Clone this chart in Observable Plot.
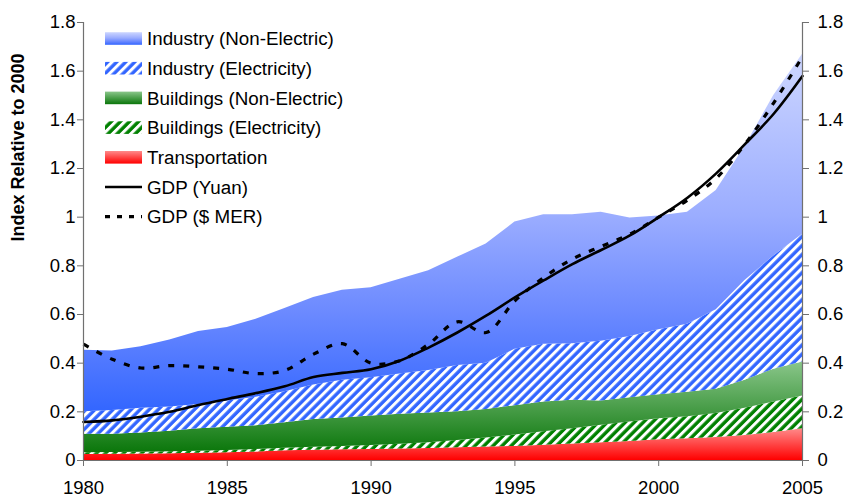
<!DOCTYPE html>
<html><head><meta charset="utf-8">
<script src="https://cdn.jsdelivr.net/npm/d3@7"></script>
<script src="https://cdn.jsdelivr.net/npm/@observablehq/plot@0.6"></script>
<style>
body{margin:0;background:#fff;}
#chart{position:relative;width:846px;height:498px;}
#chart svg{font-family:"Liberation Sans",Arial,sans-serif;overflow:visible;}
</style></head><body><div id="chart"></div>
<script>
const years = [1980,1981,1982,1983,1984,1985,1986,1987,1988,1989,1990,1991,1992,1993,1994,1995,1996,1997,1998,1999,2000,2001,2002,2003,2004,2005];
const transport   = [.025,.026,.027,.028,.030,.032,.035,.040,.042,.044,.045,.047,.049,.052,.055,.058,.063,.068,.073,.078,.085,.089,.095,.103,.115,.130];
const bldgElec    = [.007,.007,.007,.008,.008,.009,.010,.010,.012,.014,.017,.020,.024,.030,.037,.047,.055,.062,.072,.080,.087,.091,.098,.112,.125,.135];
const bldgNonElec = [.076,.075,.079,.084,.092,.096,.098,.105,.114,.117,.121,.123,.122,.118,.118,.120,.122,.118,.100,.100,.098,.100,.100,.115,.135,.140];
const indElec     = [.092,.097,.102,.100,.100,.108,.117,.128,.142,.155,.157,.165,.175,.190,.190,.232,.238,.232,.245,.252,.267,.280,.327,.410,.465,.525];
const indNonElec  = [.253,.245,.252,.275,.300,.302,.320,.342,.360,.370,.370,.390,.410,.445,.490,.523,.532,.530,.530,.487,.468,.460,.490,.550,.660,.740];
const gdpYuan     = [.158,.165,.180,.200,.228,.253,.277,.305,.343,.360,.375,.410,.464,.526,.595,.670,.740,.807,.865,.925,1.00,1.08,1.18,1.30,1.425,1.58];
const gdpMER      = [.478,.416,.380,.390,.385,.375,.357,.370,.437,.480,.400,.410,.478,.570,.526,.656,.752,.828,.880,.930,1.00,1.07,1.16,1.30,1.47,1.66];
const xTicks = [1980,1985,1990,1995,2000,2005];
const yTicks = [0,0.2,0.4,0.6,0.8,1,1.2,1.4,1.6,1.8];
const yLabel = "Index Relative to 2000";

const layers = [
  {key:"Transportation", values:transport, fill:"url(#gRed)"},
  {key:"Buildings (Electricity)", values:bldgElec, fill:"url(#hGreen)"},
  {key:"Buildings (Non-Electric)", values:bldgNonElec, fill:"url(#gGreen)"},
  {key:"Industry (Electricity)", values:indElec, fill:"url(#hBlue)"},
  {key:"Industry (Non-Electric)", values:indNonElec, fill:"url(#gBlue)"}
];
const base = years.map(() => 0);
const stacked = layers.map(l => {
  const rows = years.map((yr, i) => ({year: yr, y1: base[i], y2: base[i] + l.values[i]}));
  rows.forEach((r, i) => base[i] = r.y2);
  return {...l, rows};
});
const lineRows = (arr) => years.map((yr, i) => ({year: yr, v: arr[i]}));
const fmt = d => String(+d.toFixed(1));

const svg = Plot.plot({
  width: 846, height: 498,
  marginLeft: 83, marginRight: 44, marginTop: 22, marginBottom: 38,
  style: {fontSize: "18.5px", fontFamily: "'Liberation Sans', Arial, sans-serif", color: "#000", background: "#fff"},
  x: {domain: [1980, 2005]},
  y: {domain: [0, 1.8]},
  marks: [
    ...stacked.map(l => Plot.areaY(l.rows, {x: "year", y1: "y1", y2: "y2", fill: l.fill})),
    Plot.lineY(lineRows(gdpMER), {x: "year", y: "v", stroke: "#000", strokeWidth: 3.2, strokeDasharray: "6,9", strokeLinecap: "butt", curve: "catmull-rom"}),
    Plot.lineY(lineRows(gdpYuan), {x: "year", y: "v", stroke: "#000", strokeWidth: 2.6, curve: "catmull-rom"}),
    Plot.ruleX([1980, 2005], {stroke: "#707070", strokeWidth: 1.2}),
    Plot.ruleY([0], {stroke: "#707070", strokeWidth: 1.2}),
    Plot.axisX({ticks: xTicks, tickFormat: d => String(d), tickSize: 6, tickPadding: 14, stroke: "#707070", label: null, fontSize: 18.5}),
    Plot.axisY({anchor: "left", ticks: yTicks, tickFormat: fmt, tickSize: 6, tickPadding: 2, stroke: "#707070", label: null, fontSize: 18.5}),
    Plot.axisY({anchor: "right", ticks: yTicks, tickFormat: fmt, tickSize: 6, tickPadding: 9, stroke: "#707070", label: null, fontSize: 18.5}),
    Plot.text([yLabel], {frameAnchor: "left", dx: -65, rotate: -90, fontWeight: "bold", fontSize: 18, text: d => d, fill: "#000"})
  ]
});
document.getElementById("chart").appendChild(svg);

const S = d3.select(svg);
const defs = S.insert("defs", ":first-child");
function grad(id, stops) {
  const g = defs.append("linearGradient").attr("id", id).attr("x1", 0).attr("y1", 0).attr("x2", 0).attr("y2", 1);
  stops.forEach(([o, c]) => g.append("stop").attr("offset", o).attr("stop-color", c));
}
grad("gBlue", [[0, "#cdd6ff"], [0.45, "#9badff"], [0.72, "#6c8aff"], [1, "#3366ff"]]);
grad("gGreen", [[0, "#8ac68a"], [1, "#0a760a"]]);
grad("gRed", [[0, "#ff8a8a"], [1, "#ff0000"]]);
function hatch(id, color) {
  const p = defs.append("pattern").attr("id", id).attr("patternUnits", "userSpaceOnUse")
    .attr("width", 6.4).attr("height", 10).attr("patternTransform", "rotate(45)");
  p.append("rect").attr("width", 6.4).attr("height", 10).attr("fill", color);
  p.append("rect").attr("width", 3).attr("height", 10).attr("fill", "#fff");
}
hatch("hBlue", "#3366ff");
hatch("hGreen", "#008000");

// legend
const legendItems = [
  {label: "Industry (Non-Electric)", fill: "url(#gBlue)"},
  {label: "Industry (Electricity)", fill: "url(#hBlue)"},
  {label: "Buildings (Non-Electric)", fill: "url(#gGreen)"},
  {label: "Buildings (Electricity)", fill: "url(#hGreen)"},
  {label: "Transportation", fill: "url(#gRed)"},
  {label: "GDP (Yuan)", line: "solid"},
  {label: "GDP ($ MER)", line: "dash"}
];
const L = S.append("g").attr("font-size", 18.8).attr("text-anchor", "start");
legendItems.forEach((d, i) => {
  const cy = 38.5 + i * 29.7;
  if (d.fill) {
    L.append("rect").attr("x", 105).attr("y", cy - 6.3).attr("width", 37).attr("height", 12.6).attr("fill", d.fill);
  } else {
    L.append("line").attr("x1", 105).attr("x2", 142).attr("y1", cy).attr("y2", cy)
      .attr("stroke", "#000").attr("stroke-width", d.line === "solid" ? 2.6 : 3.2)
      .attr("stroke-dasharray", d.line === "solid" ? null : "5,7");
  }
  L.append("text").attr("x", 147).attr("y", cy).attr("dy", "0.36em").attr("fill", "#000").attr("text-anchor", "start").text(d.label);
});
</script></body></html>
